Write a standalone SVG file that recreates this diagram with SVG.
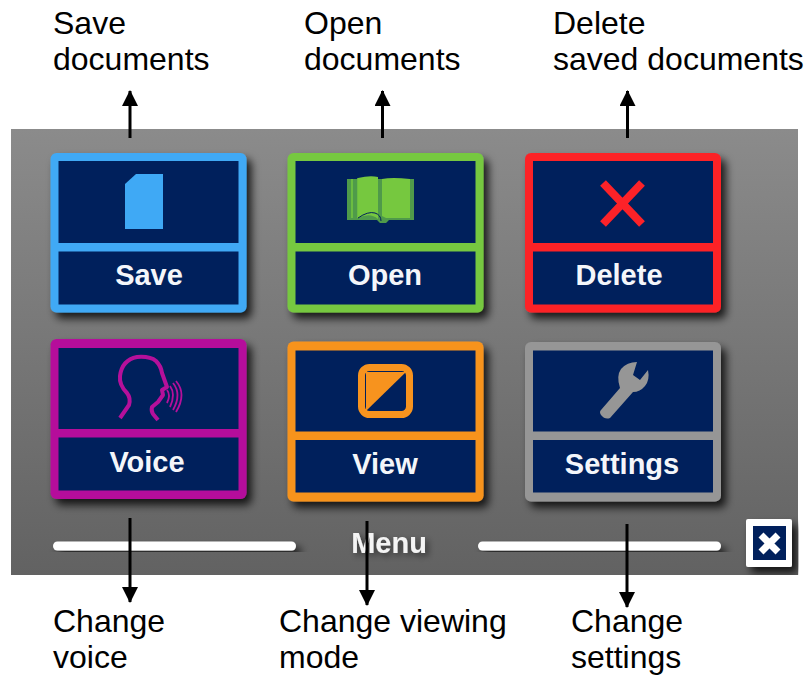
<svg xmlns="http://www.w3.org/2000/svg" width="806" height="676" viewBox="0 0 806 676">
<style>
.cap{font:32px "Liberation Sans",Arial,sans-serif;fill:#000}
.lbl{font:bold 29px "Liberation Sans",Arial,sans-serif;fill:#f4f6fa;text-anchor:middle}
.in{fill:#00205c}
.sh{filter:url(#sh)}
.conn{stroke:#000;stroke-width:3;fill:none;marker-end:url(#ah)}
</style>
<defs>
<linearGradient id="bg" x1="0" y1="0" x2="0" y2="1"><stop offset="0" stop-color="#8b8b8b"/><stop offset="1" stop-color="#626262"/></linearGradient>
<filter id="sh" x="-15%" y="-15%" width="130%" height="130%"><feDropShadow dx="5" dy="6" stdDeviation="4" flood-color="#000" flood-opacity=".8"/></filter>
<filter id="ts" x="-15%" y="-30%" width="130%" height="160%"><feDropShadow dx="3" dy="3" stdDeviation="3" flood-color="#000" flood-opacity=".5"/></filter>
<marker id="ah" markerUnits="userSpaceOnUse" markerWidth="16" markerHeight="16" refX="15" refY="8" orient="auto"><path d="M0 0L16 8L0 16Z" fill="#000"/></marker>
</defs>
<rect id="panel" x="11" y="129" width="787" height="446" fill="url(#bg)"/>

<g id="save">
<rect class="sh" x="50.500" y="153" width="196" height="159.500" rx="6" fill="#3fa9f5"/>
<rect class="in" x="58.500" y="161" width="180" height="82"/><rect class="in" x="58.500" y="251.500" width="180" height="53"/>
<path d="M125 184L136 174H163V229H125Z" fill="#3fa9f5"/>
<text class="lbl" x="149" y="285">Save</text>
</g>
<g id="open">
<rect class="sh" x="287.500" y="153" width="196" height="159.500" rx="6" fill="#76c83f"/>
<rect class="in" x="295.500" y="161" width="180" height="82"/><rect class="in" x="295.500" y="251.500" width="180" height="53"/>
<path d="M347 179H414V220H389L386 223H380L377 220H347Z" fill="#4f9a4a"/>
<path d="M358 178Q370 175 378 177V219Q370 212 358 218Z" fill="#76c83f"/>
<path d="M382 179Q392 177 410 179V218H386L382 216Z" fill="#76c83f"/>
<path d="M352 179V218M358 178V218" stroke="#76c83f" stroke-width="1.500"/>
<path d="M358 218Q368 211 375 213Q381 215 381 221" fill="none" stroke="#00205c" stroke-width="1"/>
<text class="lbl" x="385" y="285">Open</text>
</g>
<g id="delete">
<rect class="sh" x="525" y="153" width="196" height="159.500" rx="6" fill="#fc2228"/>
<rect class="in" x="533" y="161" width="180" height="82"/><rect class="in" x="533" y="251.500" width="180" height="53"/>
<path d="M603 183L642 224M642 183L603 224" stroke="#fc2228" stroke-width="8" fill="none"/>
<text class="lbl" x="619" y="285">Delete</text>
</g>
<g id="voice">
<rect class="sh" x="50.500" y="339" width="196" height="160" rx="6" fill="#b5109b"/>
<rect class="in" x="58.500" y="348" width="180" height="81"/><rect class="in" x="58.500" y="437.500" width="180" height="53"/>
<path d="M120 418L129 405Q131 398 127 393Q119 385 120 376Q122 360 137 357Q150 356 156 361Q161 366 162 373L167 387L162 390L163 395L158 402L152 407Q151 411 153 414L158 420" fill="none" stroke="#b5109b" stroke-width="4" stroke-linejoin="round"/>
<path d="M167 390Q171 395 167 403M170 386Q176 394 170 407M173 383Q182 394 173 410M176 381Q187 394 176 412" fill="none" stroke="#b5109b" stroke-width="1.800"/>
<text class="lbl" x="147" y="472">Voice</text>
</g>
<g id="view">
<rect class="sh" x="287.500" y="341.500" width="196" height="160" rx="6" fill="#f7931e"/>
<rect class="in" x="295.500" y="350.500" width="180" height="81"/><rect class="in" x="295.500" y="440" width="180" height="52.500"/>
<rect x="361.500" y="367.500" width="48" height="47" rx="8" fill="none" stroke="#f7931e" stroke-width="7"/>
<path d="M366 372H406L366 411Z" fill="#f7931e"/>
<text class="lbl" x="385" y="474">View</text>
</g>
<g id="settings">
<rect class="sh" x="525" y="342" width="196" height="159.500" rx="6" fill="#969696"/>
<rect class="in" x="533" y="350.500" width="180" height="81"/><rect class="in" x="533" y="440" width="180" height="52.500"/>
<path d="M637 362L633 375L640 380L648 370Q650 380 645 386Q640 392 633 392L610 418Q605 420 601 415Q599 412 601 410L620 388Q616 376 621 369Q627 362 637 362Z" fill="#969696"/>
<text class="lbl" x="622" y="474">Settings</text>
</g>
<g id="menu-bar">
<rect class="sh" x="53" y="541.500" width="243" height="9" rx="4.500" fill="#fff"/>
<rect class="sh" x="478" y="541.500" width="243" height="9" rx="4.500" fill="#fff"/>
<text x="389" y="553" font-family="Liberation Sans,Arial,sans-serif" font-weight="bold" font-size="29" fill="#f4f4f4" text-anchor="middle" filter="url(#ts)">Menu</text>
</g>
<g id="close">
<rect class="sh" x="746" y="519" width="46" height="48" rx="2" fill="#fff"/>
<rect class="in" x="753" y="526" width="33" height="34"/>
<path d="M761 535L778 552M778 535L761 552" stroke="#fff" stroke-width="7" fill="none"/>
</g>

<g id="connectors">
<path class="conn" d="M130 138V91"/>
<path class="conn" d="M382.500 138V91"/>
<path class="conn" d="M627.500 138V91"/>
<path class="conn" d="M130 518V602"/>
<path class="conn" d="M367 521V605"/>
<path class="conn" d="M627 524V607"/>
</g>

<g id="captions">
<text class="cap" x="53" y="33.500">Save</text><text class="cap" x="53" y="69.700">documents</text>
<text class="cap" x="304" y="33.500">Open</text><text class="cap" x="304" y="69.700">documents</text>
<text class="cap" x="553" y="33.500">Delete</text><text class="cap" x="553" y="69.700">saved documents</text>
<text class="cap" x="53" y="631.500">Change</text><text class="cap" x="53" y="667.700">voice</text>
<text class="cap" x="279" y="631.500">Change viewing</text><text class="cap" x="279" y="667.700">mode</text>
<text class="cap" x="571" y="631.500">Change</text><text class="cap" x="571" y="667.700">settings</text>
</g>
</svg>
